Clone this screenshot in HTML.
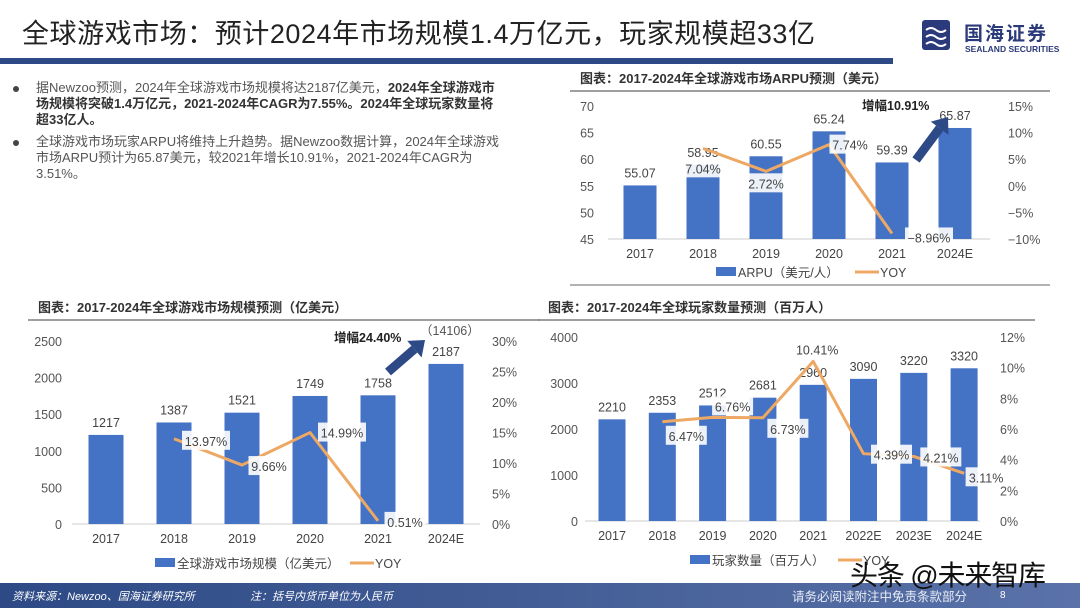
<!DOCTYPE html>
<html><head><meta charset="utf-8"><style>
body{margin:0;width:1080px;height:608px;overflow:hidden;background:#fff;font-family:"Liberation Sans","Noto Sans CJK SC",sans-serif;}
svg{position:absolute;left:0;top:0}
.p{position:absolute;left:36px;width:464px;font-size:13px;line-height:16px;color:#555;}
.p b{color:#333}
.dot{position:absolute;left:13px;width:6px;height:6px;border-radius:50%;background:#444}
</style></head><body>
<div class="dot" style="top:86px"></div>
<div class="p" style="top:80px">据Newzoo预测，2024年全球游戏市场规模将达2187亿美元，<b>2024年全球游戏市场规模将突破1.4万亿元，2021-2024年CAGR为7.55%。2024年全球玩家数量将超33亿人。</b></div>
<div class="dot" style="top:140px"></div>
<div class="p" style="top:134px">全球游戏市场玩家ARPU将维持上升趋势。据Newzoo数据计算，2024年全球游戏市场ARPU预计为65.87美元，较2021年增长10.91%，2021-2024年CAGR为3.51%。</div>
<svg id="s" width="1080" height="608" xmlns="http://www.w3.org/2000/svg" font-family="Liberation Sans, Noto Sans CJK SC, sans-serif">
<defs><linearGradient id="ft" x1="0" x2="1"><stop offset="0" stop-color="#2d4a86"/><stop offset="1" stop-color="#5a72a8"/></linearGradient></defs>
<text x="22" y="43" font-size="27" fill="#222" textLength="793">全球游戏市场：预计2024年市场规模1.4万亿元，玩家规模超33亿</text>
<rect x="0" y="58" width="893" height="6" fill="#2d4a86"/>
<g>
<rect x="922" y="20" width="28" height="30" fill="#2b3a7a" rx="3"/>
<path d="M926 30 q5 -4 10 0 t10 0 M926 37 q5 -4 10 0 t10 0 M926 44 q5 -4 10 0 t10 0" stroke="#fff" stroke-width="2" fill="none"/>
<text x="964" y="40" font-size="19" font-weight="bold" fill="#2b3a7a" letter-spacing="2">国海证券</text>
<text x="965" y="52" font-size="8.5" font-weight="bold" fill="#2b3a7a">SEALAND SECURITIES</text>
</g>
<g id="c1"></g><g id="c2"></g><g id="c3"></g>
<rect x="0" y="583" width="1080" height="25" fill="url(#ft)"/>
<text x="12" y="600" font-size="11" fill="#fff" font-style="italic">资料来源：Newzoo、国海证券研究所</text>
<text x="250" y="600" font-size="11" fill="#fff" font-style="italic">注：括号内货币单位为人民币</text>
<text x="792" y="601" font-size="12.5" fill="#e8ecf4">请务必阅读附注中免责条款部分</text>
<text x="1000" y="598" font-size="10" fill="#fff">8</text>
<text x="850" y="585" font-size="28" fill="#111" textLength="196">头条 @未来智库</text>
</svg>
<script>
const ns="http://www.w3.org/2000/svg";
const BLUE="#4472c4",OR="#eda864";
// chart 1 data
const c1Cats=["2017","2018","2019","2020","2021","2024E"];
const c1Vals=[55.07,58.95,60.55,65.24,59.39,65.87];
const c1Yoy=[null,7.04,2.72,7.74,-8.96,null];
const c1LeftTicks=[45,50,55,60,65,70];
const c1RightTicks=[-10,-5,0,5,10,15];
// chart 2 data
const c2Cats=["2017","2018","2019","2020","2021","2024E"];
const c2Vals=[1217,1387,1521,1749,1758,2187];
const c2Yoy=[null,13.97,9.66,14.99,0.51,null];
const c2LeftTicks=[0,500,1000,1500,2000,2500];
const c2RightTicks=[0,5,10,15,20,25,30];
// chart 3 data
const c3Cats=["2017","2018","2019","2020","2021","2022E","2023E","2024E"];
const c3Vals=[2210,2353,2512,2681,2960,3090,3220,3320];
const c3Yoy=[null,6.47,6.76,6.73,10.41,4.39,4.21,3.11];
const c3LeftTicks=[0,1000,2000,3000,4000];
const c3RightTicks=[0,2,4,6,8,10,12];

function el(p,tag,a,txt){const e=document.createElementNS(ns,tag);for(const k in a)e.setAttribute(k,a[k]);if(txt!=null)e.textContent=txt;p.appendChild(e);return e;}

function chart(g,o){
  const y=v=>o.y0+(v-o.lmin)/(o.lmax-o.lmin)*(o.y1-o.y0);
  const yr=v=>o.y0+(v-o.rmin)/(o.rmax-o.rmin)*(o.y1-o.y0);
  const x=i=>o.x0+i*o.step;
  let t=el(g,"text",{x:o.tx,y:o.ty,"font-size":13,"font-weight":"bold",fill:"#333"},o.title);
  
  
  let l=el(g,"line",{x1:o.tlx1,x2:o.tlx2,y1:o.ty+8,y2:o.ty+8,stroke:"#666","stroke-width":1.2});
  
  
  o.lt.forEach(v=>{let e=el(g,"text",{x:o.lx,y:y(v)+5,"font-size":12.5,fill:"#555","text-anchor":"end"},v);
    
    });
  o.rt.forEach(v=>{let e=el(g,"text",{x:o.rx,y:yr(v)+5,"font-size":12.5,fill:"#555"},(v<0?"−"+(-v):v)+"%");
    
    });
  let ax=el(g,"line",{x1:o.ax1,x2:o.ax2,y1:o.y0,y2:o.y0,stroke:"#ccc"});
  
  
  o.cats.forEach((c,i)=>{
    const b=el(g,"rect",{x:x(i)-o.bw/2,y:y(o.vals[i]),width:o.bw,height:o.y0-y(o.vals[i]),fill:BLUE});
    
    
    const bl=el(g,"text",{x:x(i),y:y(o.vals[i])-8,"font-size":12.5,fill:"#444","text-anchor":"middle"},o.vals[i]);
    
    
    const xl=el(g,"text",{x:x(i),y:o.y0+19,"font-size":12.5,fill:"#444","text-anchor":"middle"},c);
    
    
  });
  const pts=[];o.yoy.forEach((v,i)=>{if(v!=null)pts.push([x(i),yr(v),v,i]);});
  const pl=el(g,"polyline",{points:pts.map(p=>p[0]+","+p[1]).join(" "),fill:"none",stroke:OR,"stroke-width":3,"stroke-linejoin":"round"});
  
  
  pts.forEach((p,k)=>{
    const off=o.off[k];const s=p[2].toFixed(2).replace("-","−")+"%";
    const w=s.length*7+6;const cx=p[0]+off[0],cy=p[1]+off[1];
    const r=el(g,"rect",{x:cx-w/2,y:cy-10,width:w,height:19,fill:"#fff","fill-opacity":0.9});
    
    
    const tt=el(g,"text",{x:cx,y:cy+5,"font-size":12.5,fill:"#444","text-anchor":"middle"},s);
    
    
  });
  const lg=el(g,"g",{});
  
  
  el(lg,"rect",{x:o.lgx,y:o.lgy-5,width:20,height:9,fill:BLUE});
  el(lg,"text",{x:o.lgx+22,y:o.lgy+5,"font-size":12.5,fill:"#444"},o.lgt);
  el(lg,"line",{x1:o.lgx2,x2:o.lgx2+24,y1:o.lgy,y2:o.lgy,stroke:OR,"stroke-width":3});
  el(lg,"text",{x:o.lgx2+25,y:o.lgy+5,"font-size":12.5,fill:"#444"},"YOY");
  if(o.bot){let b=el(g,"line",{x1:o.tlx1,x2:o.tlx2,y1:o.bot,y2:o.bot,stroke:"#666"});
    
    }
}
function arrow(g,x1,y1,x2,y2,lab,lx,ly){
  const a=el(g,"g",{});
  
  
  const ang=Math.atan2(y2-y1,x2-x1),c=Math.cos(ang),s=Math.sin(ang);
  const hx=x2-c*14,hy=y2-s*14;
  el(a,"line",{x1:x1,y1:y1,x2:hx,y2:hy,stroke:"#2d4a86","stroke-width":9});
  el(a,"polygon",{points:`${x2},${y2} ${hx-s*11},${hy+c*11} ${hx+s*11},${hy-c*11}`,fill:"#2d4a86"});
  const t=el(g,"text",{x:lx,y:ly,"font-size":12.5,"font-weight":"bold",fill:"#222"},lab);
  
  
}
const g1=document.getElementById("c1"),g2=document.getElementById("c2"),g3=document.getElementById("c3");
chart(g1,{title:"图表：2017-2024年全球游戏市场ARPU预测（美元）",tx:580,ty:83,tlx1:570,tlx2:1050,
  y0:239,y1:106,lmin:45,lmax:70,rmin:-10,rmax:15,lt:c1LeftTicks,rt:c1RightTicks,lx:594,rx:1008,
  x0:640,step:63,bw:33,ax1:608,ax2:990,cats:c1Cats,vals:c1Vals,yoy:c1Yoy,
  off:[[0,20],[0,12],[21,0],[37,4]],lgx:716,lgy:272,lgt:"ARPU（美元/人）",lgx2:855,bot:285});
arrow(g1,916,160,948,117,"增幅10.91%",862,110);
chart(g2,{title:"图表：2017-2024年全球游戏市场规模预测（亿美元）",tx:38,ty:312,tlx1:28,tlx2:540,
  y0:524,y1:341,lmin:0,lmax:2500,rmin:0,rmax:30,lt:c2LeftTicks,rt:c2RightTicks,lx:62,rx:492,
  x0:106,step:68,bw:35,ax1:72,ax2:480,cats:c2Cats,vals:c2Vals,yoy:c2Yoy,
  off:[[32,2],[27,1],[32,0],[27,1]],lgx:155,lgy:563,lgt:"全球游戏市场规模（亿美元）",lgx2:350});
arrow(g2,388,372,425,340,"增幅24.40%",334,342);
let n=el(g2,"text",{x:420,y:335,"font-size":12.5,fill:"#555"},"（14106）");


chart(g3,{title:"图表：2017-2024年全球玩家数量预测（百万人）",tx:548,ty:312,tlx1:538,tlx2:1035,
  y0:521,y1:337,lmin:0,lmax:4000,rmin:0,rmax:12,lt:c3LeftTicks,rt:c3RightTicks,lx:578,rx:1000,
  x0:612,step:50.3,bw:27,ax1:585,ax2:980,cats:c3Cats,vals:c3Vals,yoy:c3Yoy,
  off:[[24,14],[20,-11],[25,11],[4,-12],[28,1],[27,1],[22,4]],lgx:690,lgy:560,lgt:"玩家数量（百万人）",lgx2:838});
</script>
</body></html>
